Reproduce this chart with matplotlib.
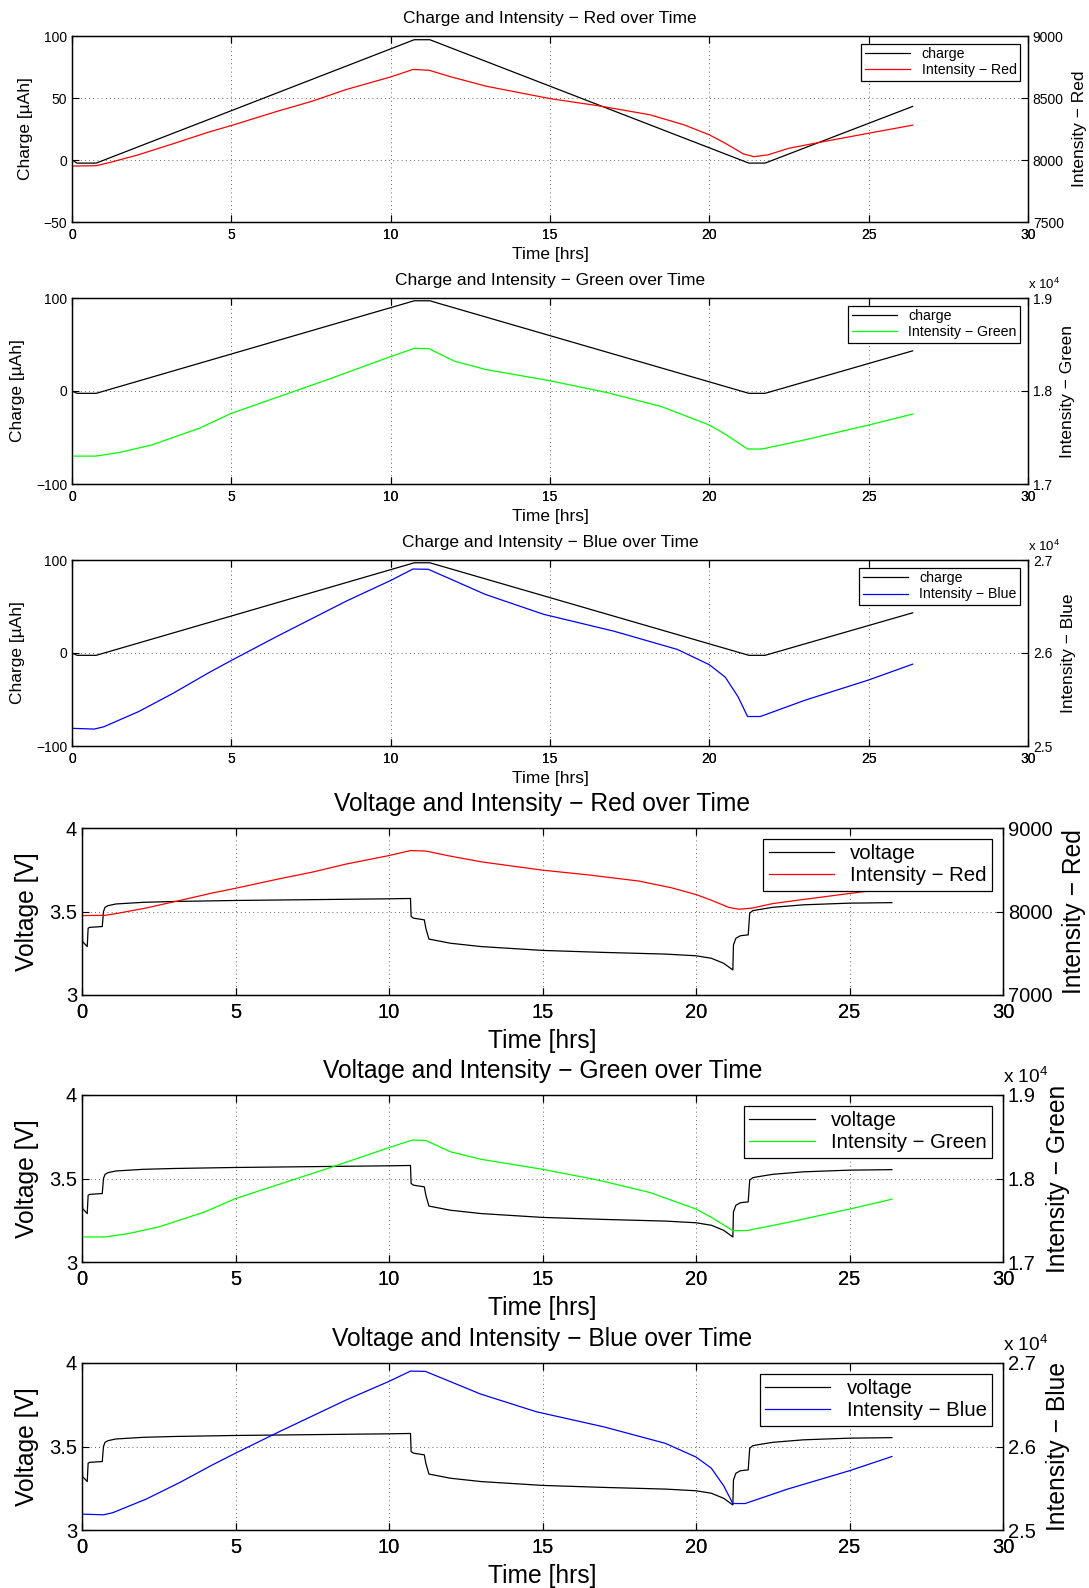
import numpy as np
import matplotlib
matplotlib.use("Agg")
import matplotlib.pyplot as plt
from matplotlib.ticker import FuncFormatter

plt.rcParams['font.family'] = ['Liberation Sans', 'DejaVu Sans']
plt.rcParams['mathtext.fontset'] = 'custom'
plt.rcParams['mathtext.rm'] = 'Liberation Sans'

# charge [uAh] over time [hrs]
t_charge = [0, 0.16, 0.76, 10.74, 11.23, 21.24, 21.75, 26.38]
charge = [0, -2.5, -2.5, 97, 97, -2.5, -2.5, 43.2]

# battery voltage [V]
t_volt = [0, 0.02, 0.17, 0.2, 0.25, 0.66, 0.7, 0.75, 0.85, 1.1, 2, 3, 5, 8, 10, 10.7,
          10.72, 10.8, 11.15, 11.2, 11.3, 12, 13, 15, 17, 19, 20, 20.5, 20.9, 21.2,
          21.22, 21.3, 21.45, 21.7, 21.75, 21.85, 22.0, 22.5, 23.5, 25, 26.38]
volt = [3.54, 3.32, 3.29, 3.40, 3.405, 3.41, 3.50, 3.525, 3.535, 3.545, 3.555, 3.56,
        3.566, 3.572, 3.576, 3.578, 3.47, 3.46, 3.45, 3.40, 3.335, 3.31, 3.29, 3.267,
        3.255, 3.245, 3.235, 3.22, 3.19, 3.15, 3.30, 3.34, 3.355, 3.36, 3.49, 3.505,
        3.51, 3.525, 3.54, 3.55, 3.553]

# intensities per colour
t_red = [0, 0.76, 1.2, 2.07, 3.16, 4.25, 5, 6.43, 7.52, 8.6, 10, 10.7, 11.2, 11.9, 13,
         15, 16.5, 18.13, 19.2, 20, 20.5, 21.07, 21.4, 21.83, 22.5, 23.6, 25, 26.38]
red = [7951, 7954, 7981, 8041, 8130, 8222, 8278, 8392, 8473, 8568, 8670, 8730, 8724,
       8670, 8595, 8495, 8438, 8365, 8284, 8203, 8135, 8049, 8027, 8041, 8095, 8149,
       8216, 8281]

t_green = [0, 0.75, 1.5, 2.5, 4, 5, 8, 10, 10.75, 11.2, 12, 13, 15, 16.8, 18.5, 20,
           20.5, 21.2, 21.65, 23, 25, 26.38]
green = [17300, 17300, 17340, 17420, 17600, 17760, 18120, 18370, 18460, 18455, 18320,
         18230, 18110, 17982, 17832, 17634, 17535, 17376, 17376, 17475, 17634, 17752]

t_blue = [0, 0.7, 1.0, 2.09, 3.18, 4.27, 5, 6.44, 7.53, 8.62, 10, 10.7, 11.18, 11.88,
          12.97, 14.8, 17, 19, 20, 20.5, 20.9, 21.2, 21.6, 23, 25, 26.38]
blue = [25190, 25182, 25207, 25370, 25568, 25784, 25920, 26180, 26370, 26560, 26780,
        26903, 26900, 26795, 26630, 26416, 26235, 26038, 25874, 25740, 25530, 25317,
        25317, 25492, 25710, 25880]

W, H = 1089, 1588
fig = plt.figure(figsize=(W / 100, H / 100), dpi=100)


def rect(x0, y0, x1, y1):
    return [x0 / W, 1 - y1 / H, (x1 - x0) / W, (y1 - y0) / H]


def panel(r, t1, y1, lab1, name1, ylim1, yt1, t2, y2, col, cname, ylim2, yt2,
          title, fs_tick, fs_lab, fs_leg, pads, scale=False):
    tpad, xpad, ypad, y2pad = pads
    ax = fig.add_axes(r)
    ax2 = ax.twinx()
    ax.plot(t1, y1, color='k', lw=0.9, label=name1)
    ax2.plot(t2, y2, color=col, lw=0.9, label='Intensity \u2212 ' + cname)
    ax.set_xlim(0, 30)
    ax.set_xticks(range(0, 31, 5))
    ax.set_ylim(*ylim1)
    ax.set_yticks(yt1)
    ax.yaxis.set_major_formatter(FuncFormatter(lambda v, p: ('%g' % v).replace('-', '\u2212')))
    ax2.set_ylim(*ylim2)
    ax2.set_yticks(yt2)
    if scale:
        ax2.yaxis.set_major_formatter(FuncFormatter(lambda v, p: '%g' % (v / 1e4)))
        ax2.annotate('x 10$^{4}$', xy=(1.0, 1.0), xycoords='axes fraction',
                     xytext=(0, fs_tick * 0.4), textcoords='offset points',
                     ha='left', va='bottom', fontsize=fs_tick * 0.95)
    ax.tick_params(direction='in', top=True, right=False, length=5, width=0.8,
                   labelsize=fs_tick)
    ax.tick_params(axis='x', pad=fs_tick * 0.4)
    ax2.tick_params(direction='in', length=5, width=0.8, labelsize=fs_tick)
    # matlab draws the time labels twice, looks heavier
    ax2.xaxis.set_visible(True)
    ax2.tick_params(axis='x', direction='in', top=True, length=5, labelsize=fs_tick,
                    pad=fs_tick * 0.4)
    ax.grid(True, linestyle=(0, (1, 4)), color='0.2', linewidth=0.6)
    for sp in ax.spines.values():
        sp.set_linewidth(1.0)
    ax.set_xlabel('Time [hrs]', fontsize=fs_lab, labelpad=xpad)
    ax.set_ylabel(lab1, fontsize=fs_lab, labelpad=ypad)
    ax2.set_ylabel('Intensity \u2212 ' + cname, fontsize=fs_lab, labelpad=y2pad)
    ax.set_title(title, fontsize=fs_lab, pad=tpad)
    h1, l1 = ax.get_legend_handles_labels()
    h2, l2 = ax2.get_legend_handles_labels()
    leg = ax2.legend(h1 + h2, l1 + l2, loc='upper right', fontsize=fs_leg,
                     fancybox=False, edgecolor='k', framealpha=1, handlelength=3.2,
                     borderpad=0.25, labelspacing=0.15, borderaxespad=0.55)
    leg.get_frame().set_linewidth(0.9)
    return ax, ax2


top_pads = (9, 4, 7.5, 6)
low_pads = (12, 5, 7, 7)

panel(rect(72, 36, 1028, 222), t_charge, charge, 'Charge [\u00b5Ah]', 'charge',
      (-50, 100), [-50, 0, 50, 100], t_red, red, 'r', 'Red', (7500, 9000),
      [7500, 8000, 8500, 9000], 'Charge and Intensity \u2212 Red over Time', 10, 12.5, 10.2,
      top_pads)
panel(rect(72, 298, 1028, 484), t_charge, charge, 'Charge [\u00b5Ah]', 'charge',
      (-100, 100), [-100, 0, 100], t_green, green, '#00ff00', 'Green', (17000, 19000),
      [17000, 18000, 19000], 'Charge and Intensity \u2212 Green over Time', 10, 12.5, 10.2,
      top_pads, scale=True)
panel(rect(72, 560, 1028, 746), t_charge, charge, 'Charge [\u00b5Ah]', 'charge',
      (-100, 100), [-100, 0, 100], t_blue, blue, '#0000ff', 'Blue', (25000, 27000),
      [25000, 26000, 27000], 'Charge and Intensity \u2212 Blue over Time', 10, 12.5, 10.2,
      top_pads, scale=True)

panel(rect(82, 828, 1003, 995), t_volt, volt, 'Voltage [V]', 'voltage',
      (3, 4), [3, 3.5, 4], t_red, red, 'r', 'Red', (7000, 9000),
      [7000, 8000, 9000], 'Voltage and Intensity \u2212 Red over Time', 14.5, 17.7, 14.7,
      low_pads)
panel(rect(82, 1095, 1003, 1262), t_volt, volt, 'Voltage [V]', 'voltage',
      (3, 4), [3, 3.5, 4], t_green, green, '#00ff00', 'Green', (17000, 19000),
      [17000, 18000, 19000], 'Voltage and Intensity \u2212 Green over Time', 14.5, 17.7,
      14.7, low_pads, scale=True)
panel(rect(82, 1363, 1003, 1530), t_volt, volt, 'Voltage [V]', 'voltage',
      (3, 4), [3, 3.5, 4], t_blue, blue, '#0000ff', 'Blue', (25000, 27000),
      [25000, 26000, 27000], 'Voltage and Intensity \u2212 Blue over Time', 14.5, 17.7,
      14.7, low_pads, scale=True)

fig.savefig('out.png', dpi=100)
